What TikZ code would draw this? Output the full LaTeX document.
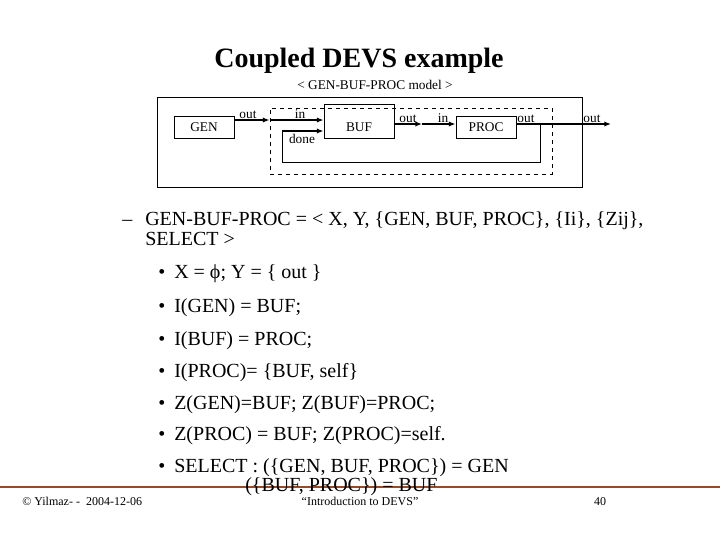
\documentclass[tikz,border=0pt]{standalone}
\usepackage{fontspec}
\setmainfont{Liberation Serif}
\usetikzlibrary{positioning, arrows.meta}
\definecolor{rulebrown}{RGB}{150,75,40}

\begin{document}
\begin{tikzpicture}[x=0.75pt, y=-0.75pt, every node/.style={inner sep=0pt},
  blk/.style={draw, line width=0.75pt, minimum width=45pt, minimum height=16.5pt,
    font=\fontsize{10}{12}\selectfont},
  port/.style={font=\fontsize{10}{12}\selectfont, anchor=base},
  flow/.style={-{Latex[length=5pt,width=4pt]}, line width=1.6pt},
  wire/.style={line width=0.75pt},
  body/.style={font=\fontsize{15}{18}\selectfont, anchor=base west},
  foot/.style={font=\fontsize{9}{11}\selectfont, anchor=base}]
\useasboundingbox (0,0) rectangle (720,540);

% title
\node[font=\fontsize{21}{25}\selectfont\bfseries, anchor=base] (title) at (359,67) {Coupled DEVS example};
\node[port] (subtitle) at (375,89) {< GEN-BUF-PROC model >};

% coupled model
\node[draw, line width=0.75pt, minimum width=318.75pt, minimum height=67.5pt] (outer) at (369.5,142) {};
\node[draw, dashed, line width=0.75pt, minimum width=211.5pt, minimum height=49.5pt] (dashbox) at (411,141) {};
\node[blk] (GEN) at (204,127) {GEN};
\node[blk, minimum width=52.5pt, minimum height=25.5pt] (BUF) at (359,121) {};
\node[font=\fontsize{10}{12}\selectfont] (buftext) at (359,127) {BUF};
\node[blk] (PROC) at (486,127) {PROC};

\coordinate (mid) at (422,124);
\coordinate (tap) at (540,124);
\coordinate (back) at (282,131);
\coordinate (sink) at (611,124);

\draw[flow] (GEN.east |- 0,120) -- (dashbox.west |- 0,120);
\draw[flow] (dashbox.west |- 0,120) -- (BUF.west |- 0,120);
\draw[wire] (tap) |- (282,162) -- (back);
\draw[flow] (back) -- (BUF.west |- back);
\draw[flow] (BUF.east |- mid) -- (mid);
\draw[flow] (mid) -- (PROC.west |- mid);
\draw[flow] (PROC.east |- mid) -- (sink);

\node[port] (genout) at (248,118) {out};
\node[port] (bufin) at (300,118) {in};
\node[port] (bufdone) at (302,143) {done};
\node[port] (bufout) at (408,122) {out};
\node[port] (procin) at (443,122) {in};
\node[port] (procout) at (526,122) {out};
\node[port] (modelout) at (592,122) {out};

% definition
\node[body] (dash) at (122,225) {–};
\node[body] (def1) at (145,225) {GEN-BUF-PROC = < X, Y, \{GEN, BUF, PROC\}, \{Ii\}, \{Zij\},};
\node[body] (def2) at (145,245) {SELECT >};

\node[body] (b1) at (158,278) {•};
\node[body] (t1) at (174,278) {X = ϕ; Y = \{ out \}};
\node[body] (b2) at (158,312) {•};
\node[body] (t2) at (174,312) {I(GEN) = BUF;};
\node[body] (b3) at (158,345) {•};
\node[body] (t3) at (174,345) {I(BUF) = PROC;};
\node[body] (b4) at (158,377) {•};
\node[body] (t4) at (174,377) {I(PROC)= \{BUF, self\}};
\node[body] (b5) at (158,409) {•};
\node[body] (t5) at (174,409) {Z(GEN)=BUF; Z(BUF)=PROC;};
\node[body] (b6) at (158,440) {•};
\node[body] (t6) at (174,440) {Z(PROC) = BUF; Z(PROC)=self.};
\node[body] (b7) at (158,472) {•};
\node[body] (t7) at (174,472) {SELECT : (\{GEN, BUF, PROC\}) = GEN};

% footer
\draw[rulebrown, line width=1.5pt] (0,487) -- (720,487);
\node[body] (t8) at (245,491) {(\{BUF, PROC\}) = BUF};
\node[foot, anchor=base west] (author) at (22,505) {© Yilmaz- -\ \ 2004-12-06};
\node[foot] (course) at (360,505) {“Introduction to DEVS”};
\node[foot] (page) at (600,505) {40};
\end{tikzpicture}
\end{document}
